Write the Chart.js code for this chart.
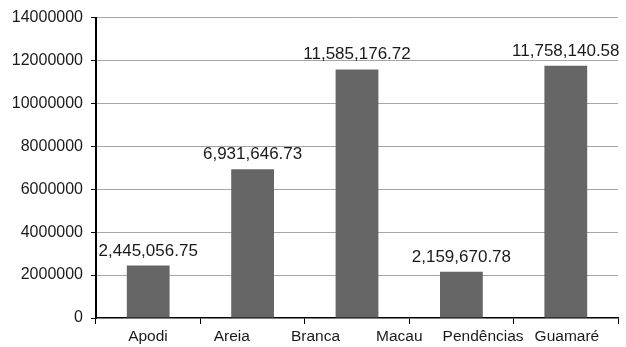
<!DOCTYPE html>
<html>
<head>
<meta charset="utf-8">
<script src="https://cdn.jsdelivr.net/npm/chart.js@4/dist/chart.umd.min.js"></script>
<style>
  html, body { margin: 0; padding: 0; background: #fff; }
  #wrap { width: 626px; height: 347px; }
</style>
</head>
<body>
<div id="wrap"><canvas id="c"></canvas></div>
<script>
// Bars: one per municipality with a value
const barCategories = ['Apodi', 'Areia', 'Branca', 'Pendências', 'Guamaré'];
const values = [2445056.75, 6931646.73, 11585176.72, 2159670.78, 11758140.58];
const valueLabels = ['2,445,056.75', '6,931,646.73', '11,585,176.72', '2,159,670.78', '11,758,140.58'];
// Names printed along the bottom axis
const axisLabels = ['Apodi', 'Areia', 'Branca', 'Macau', 'Pendências', 'Guamaré'];
const yTicks = [0, 2000000, 4000000, 6000000, 8000000, 10000000, 12000000, 14000000];

const FONT = '"Liberation Sans", Arial, sans-serif';

// Writes the value text above each bar
const barValueLabels = {
  id: 'barValueLabels',
  afterDatasetsDraw(chart) {
    const ctx = chart.ctx;
    const meta = chart.getDatasetMeta(0);
    ctx.save();
    ctx.font = '17px ' + FONT;
    ctx.fillStyle = '#1a1a1a';
    ctx.textAlign = 'center';
    ctx.textBaseline = 'alphabetic';
    meta.data.forEach((bar, i) => {
      if (values[i] == null || !valueLabels[i]) return;
      ctx.fillText(valueLabels[i], bar.x, bar.y - 10);
    });
    ctx.restore();
  }
};

new Chart(document.getElementById('c'), {
  type: 'bar',
  data: {
    labels: barCategories,
    datasets: [{
      data: values,
      xAxisID: 'x',
      backgroundColor: '#666666',
      borderWidth: 0,
      barPercentage: 0.82,
      categoryPercentage: 0.5
    }]
  },
  options: {
    responsive: true,
    maintainAspectRatio: false,
    animation: false,
    layout: { padding: { top: 10, right: 8, left: 0, bottom: 0 } },
    plugins: {
      legend: { display: false },
      tooltip: { enabled: false }
    },
    scales: {
      // category axis: bars and boundary tick marks
      x: {
        position: 'bottom',
        weight: 0,
        offset: true,
        grid: {
          offset: true,
          drawOnChartArea: false,
          drawTicks: true,
          tickLength: 6,
          color: '#000'
        },
        border: { color: '#000', width: 1.5 },
        ticks: { display: false },
        afterFit(scale) { scale.height = 6; }
      },
      // name row under the axis
      names: {
        type: 'linear',
        position: 'bottom',
        weight: 1,
        offset: false,
        bounds: 'data',
        min: -0.62,
        max: 5.61,
        afterBuildTicks(scale) {
          scale.ticks = axisLabels.map((_, i) => ({ value: i }));
        },
        grid: { display: false, drawTicks: false, offset: false },
        border: { display: false },
        ticks: {
          color: '#1a1a1a',
          font: { family: FONT, size: 15.5 },
          padding: 3,
          maxRotation: 0,
          autoSkip: false,
          callback: (v) => axisLabels[v] ?? ''
        },
        afterFit(scale) { scale.height = 23; }
      },
      y: {
        min: 0,
        max: 14000000,
        afterBuildTicks(scale) {
          scale.ticks = yTicks.map(v => ({ value: v }));
        },
        grid: {
          color: (ctx) => ctx.tick && ctx.tick.value === 0 ? 'rgba(0,0,0,0)' : '#a6a6a6',
          tickColor: '#000',
          tickLength: 5,
          lineWidth: 1
        },
        border: { color: '#000', width: 2 },
        ticks: {
          color: '#1a1a1a',
          font: { family: FONT, size: 16 },
          padding: 8,
          callback: (v) => String(v)
        },
        afterFit(scale) { scale.width = 96; }
      }
    }
  },
  plugins: [barValueLabels]
});
</script>
</body>
</html>
